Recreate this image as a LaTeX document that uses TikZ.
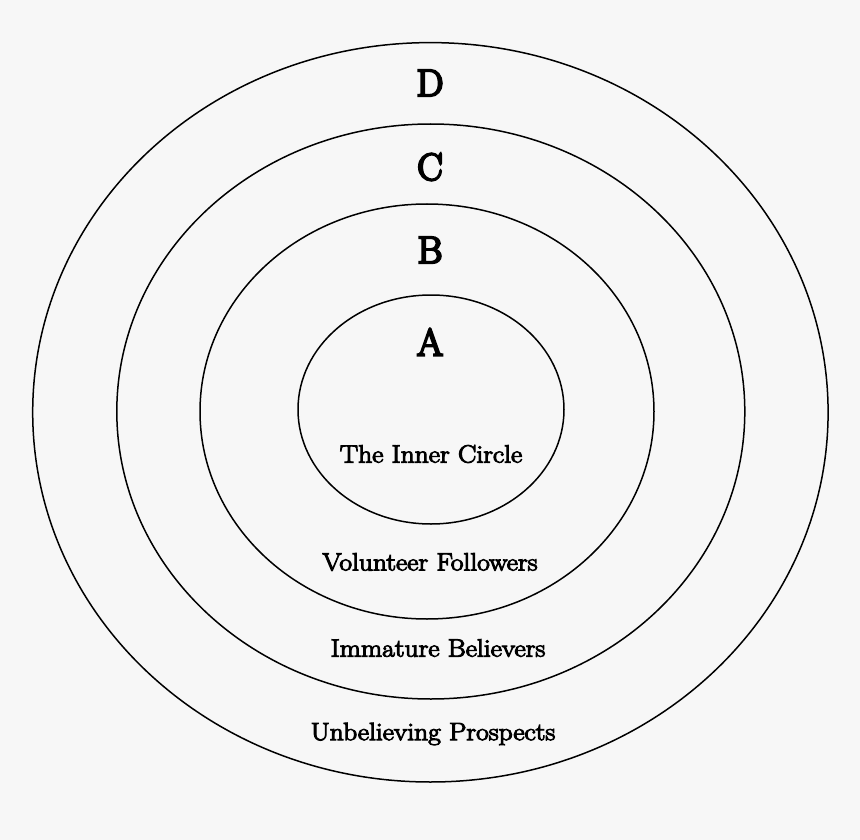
\documentclass[tikz,border=0pt]{standalone}
\usepackage{fontspec}
\usepackage{graphicx}
\newfontfamily\labfont{Latin Modern Roman}[FakeBold=4]
\newfontfamily\letfont{Latin Modern Roman}[FakeBold=6]
\definecolor{bg}{HTML}{F7F7F7}
\newcommand{\wideT}[1]{\scalebox{1.1}[1]{#1}}
\begin{document}
\begin{tikzpicture}[x=1pt,y=-1pt,
  ring/.style={draw=black,line width=1.5pt},
  letter/.style={font=\letfont\fontsize{38}{40}\selectfont,inner sep=0pt,anchor=center},
  lab/.style={font=\labfont\fontsize{25}{28}\selectfont,inner sep=0pt,anchor=center}]
\fill[bg] (0,0) rectangle (860,840);
\useasboundingbox (0,0) rectangle (860,840);
\coordinate (c4) at (430.4,412.3);
\coordinate (c3) at (430.8,411.5);
\coordinate (c2) at (427,411.5);
\coordinate (c1) at (431,409.5);
\draw[ring] (c4) ellipse [x radius=397.7, y radius=369.7];
\draw[ring] (c3) ellipse [x radius=314, y radius=287.5];
\draw[ring] (c2) ellipse [x radius=227, y radius=207.5];
\draw[ring] (c1) ellipse [x radius=133, y radius=114.5];
\node[letter] (D) at (430,83) {D};
\node[letter] (C) at (430,167) {C};
\node[letter] (B) at (430,250) {B};
\node[letter] (A) at (430,342) {A};
\node[lab] (inner) at (431,454) {\wideT{The Inner Circle}};
\node[lab] (vol) at (430,562) {\wideT{Volunteer Followers}};
\node[lab] (imm) at (438,648) {\wideT{Immature Believers}};
\node[lab] (unb) at (433,734) {\wideT{Unbelieving Prospects}};
\end{tikzpicture}
\end{document}
